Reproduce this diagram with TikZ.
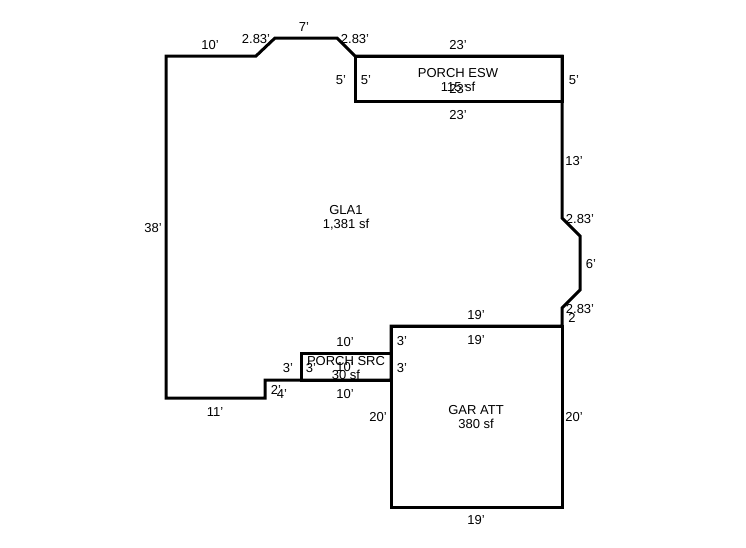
\documentclass[tikz,border=0pt]{standalone}
\usepackage{fontspec}
\setmainfont{Liberation Sans}
\tikzset{
  wall/.style={line width=3pt,line join=miter,draw=black},
  lbl/.style={inner sep=0pt,yshift=-1pt,font=\fontsize{13}{15}\selectfont,align=center,text=black},
}
\begin{document}
\begin{tikzpicture}[x=1pt,y=-1pt]
\useasboundingbox[fill=white] (0,0) rectangle (746,547);
% GLA1 outline
\draw[wall] (166,56) -- (256,56) -- (275,38) -- (337,38) -- (355,56) -- (562,56) -- (562,218) -- (580,236) -- (580,290) -- (562,308) -- (562,326) -- (391,326) -- (391,380) -- (265,380) -- (265,398) -- (166,398) -- cycle;
% PORCH ESW
\draw[wall] (355,56) rectangle (562,101);
% PORCH SRC
\draw[wall] (301,353) rectangle (391,380);
% GAR ATT
\draw[wall] (391,326) rectangle (562,507);
% area labels
\node[lbl] (gla) at (346,216.5) {GLA1\\[-1pt]1,381 sf};
\node[lbl] (esw) at (458,79.5) {PORCH ESW\\[-1pt]115 sf};
\node[lbl] (src) at (346,367.5) {PORCH SRC\\[-1pt]30 sf};
\node[lbl] (gar) at (476,416.5) {GAR ATT\\[-1pt]380 sf};
% dimensions
\node[lbl] (a1) at (210,44) {10'};
\node[lbl] (a2) at (256,38) {2.83'};
\node[lbl] (a3) at (304,26) {7'};
\node[lbl] (a4) at (355,38) {2.83'};
\node[lbl] (a5) at (458,44) {23'};
\node[lbl] (a6) at (341,79) {5'};
\node[lbl] (a7) at (366,79) {5'};
\node[lbl] (a8) at (574,79) {5'};
\node[lbl] (a9) at (458,88) {23'};
\node[lbl] (a10) at (458,114) {23'};
\node[lbl] (a11) at (574,160) {13'};
\node[lbl] (a12) at (580,218) {2.83'};
\node[lbl] (a13) at (591,263) {6'};
\node[lbl] (a14) at (580,308) {2.83'};
\node[lbl] (a15) at (572,317) {2};
\node[lbl] (a16) at (153,227) {38'};
\node[lbl] (a17) at (476,314) {19'};
\node[lbl] (a18) at (476,339) {19'};
\node[lbl] (a19) at (345,341) {10'};
\node[lbl] (a20) at (402,340) {3'};
\node[lbl] (a21) at (402,367) {3'};
\node[lbl] (a22) at (288,367) {3'};
\node[lbl] (a23) at (311,367) {3'};
\node[lbl] (a24) at (345,366) {10'};
\node[lbl] (a25) at (345,393) {10'};
\node[lbl] (a26) at (276,389) {2'};
\node[lbl] (a27) at (282,393) {4'};
\node[lbl] (a28) at (215,411) {11'};
\node[lbl] (a29) at (378,416) {20'};
\node[lbl] (a30) at (574,416) {20'};
\node[lbl] (a31) at (476,519) {19'};
\end{tikzpicture}
\end{document}
